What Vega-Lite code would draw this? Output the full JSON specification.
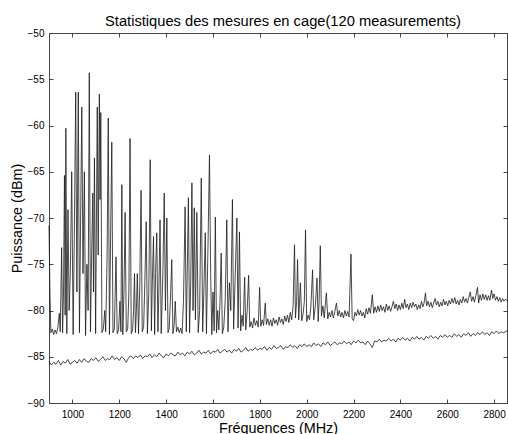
{
  "$schema": "https://vega.github.io/schema/vega-lite/v6.json",
  "width": 458,
  "height": 370,
  "autosize": {"type": "none"},
  "padding": {"left": 49, "top": 33, "right": 1, "bottom": 31},
  "background": "white",
  "config": {
    "font": "Liberation Sans",
    "view": {"stroke": "#444", "strokeWidth": 1},
    "axis": {"grid": false, "domain": false, "tickColor": "#444", "tickSize": -4, "labelFont": "Liberation Sans", "labelFontSize": 10, "labelColor": "#000", "titleFont": "Liberation Sans", "titleFontSize": 14.4, "titleFontWeight": "normal", "titleColor": "#000"}
  },
  "title": {"text": "Statistiques des mesures en cage(120 measurements)", "fontSize": 14.7, "fontWeight": "normal", "font": "Liberation Sans", "color": "#000", "offset": -1, "dx": 5, "anchor": "middle"},
  "datasets": {
    "u": [
      {"f":900,"p":-70.8},{"f":904,"p":-78},{"f":908,"p":-82.4},{"f":914,"p":-82.0},{"f":920,"p":-82.6},{"f":926,"p":-82.1},{"f":932,"p":-82.5},{"f":938,"p":-81.8},{"f":944,"p":-80.3},{"f":948,"p":-82.3},
      {"f":954,"p":-73.2},{"f":958,"p":-82.4},{"f":962,"p":-78},{"f":966,"p":-65.4},{"f":969,"p":-80.5},{"f":972,"p":-60.3},{"f":976,"p":-82.5},{"f":981,"p":-69.1},{"f":986,"p":-80},{"f":991,"p":-76},
      {"f":997,"p":-65},{"f":1003,"p":-82.6},{"f":1008,"p":-72},{"f":1014,"p":-56.4},{"f":1019,"p":-78},{"f":1025,"p":-56.4},{"f":1030,"p":-82.4},{"f":1035,"p":-70},{"f":1040,"p":-58},{"f":1045,"p":-76},
      {"f":1051,"p":-65},{"f":1056,"p":-82.7},{"f":1062,"p":-75},{"f":1067,"p":-80},{"f":1072,"p":-54.3},{"f":1077,"p":-82.3},{"f":1082,"p":-74},{"f":1087,"p":-67.3},{"f":1090,"p":-78},{"f":1094,"p":-63.5},
      {"f":1099,"p":-82.5},{"f":1102,"p":-72},{"f":1106,"p":-58},{"f":1110,"p":-74},{"f":1115,"p":-56.6},{"f":1118,"p":-68},{"f":1121,"p":-58.6},{"f":1126,"p":-82.4},{"f":1132,"p":-82.0},{"f":1138,"p":-80},
      {"f":1142,"p":-82.3},{"f":1148,"p":-74},{"f":1153,"p":-59.2},{"f":1158,"p":-82.6},{"f":1163,"p":-72},{"f":1168,"p":-61.8},{"f":1173,"p":-82.4},{"f":1179,"p":-82.0},{"f":1186,"p":-74.2},{"f":1191,"p":-82.5},
      {"f":1197,"p":-82.1},{"f":1203,"p":-79},{"f":1207,"p":-82.3},{"f":1211,"p":-66.4},{"f":1215,"p":-82.6},{"f":1220,"p":-78},{"f":1225,"p":-69.4},{"f":1230,"p":-82.3},{"f":1236,"p":-82.0},{"f":1241,"p":-78},
      {"f":1246,"p":-61.4},{"f":1251,"p":-82.5},{"f":1257,"p":-82.1},{"f":1261,"p":-80},{"f":1265,"p":-76},{"f":1269,"p":-82.4},{"f":1273,"p":-80},{"f":1277,"p":-76},{"f":1282,"p":-82.5},{"f":1287,"p":-78},
      {"f":1293,"p":-67},{"f":1298,"p":-82.3},{"f":1304,"p":-81.8},{"f":1309,"p":-77},{"f":1315,"p":-70.4},{"f":1320,"p":-82.5},{"f":1326,"p":-78},{"f":1332,"p":-63.7},{"f":1337,"p":-82.2},{"f":1341,"p":-77},
      {"f":1346,"p":-72},{"f":1351,"p":-82.6},{"f":1355,"p":-76},{"f":1360,"p":-71.6},{"f":1365,"p":-82.3},{"f":1369,"p":-78},{"f":1374,"p":-70.2},{"f":1379,"p":-82.5},{"f":1386,"p":-76},{"f":1392,"p":-67.3},
      {"f":1397,"p":-80},{"f":1403,"p":-70},{"f":1408,"p":-82.4},{"f":1413,"p":-82.0},{"f":1418,"p":-79},{"f":1424,"p":-74.5},{"f":1429,"p":-82.5},{"f":1434,"p":-81.6},{"f":1439,"p":-79},{"f":1444,"p":-82.3},
      {"f":1450,"p":-81.8},{"f":1456,"p":-82.4},{"f":1462,"p":-81.9},{"f":1468,"p":-82.5},{"f":1474,"p":-79},{"f":1481,"p":-68.8},{"f":1486,"p":-82.3},{"f":1490,"p":-76},{"f":1495,"p":-67.8},{"f":1500,"p":-82.4},
      {"f":1505,"p":-77},{"f":1510,"p":-66.2},{"f":1515,"p":-80},{"f":1520,"p":-68.9},{"f":1525,"p":-81},{"f":1531,"p":-69.4},{"f":1537,"p":-82.4},{"f":1543,"p":-80},{"f":1550,"p":-65.7},{"f":1556,"p":-82.3},
      {"f":1561,"p":-78},{"f":1567,"p":-71.6},{"f":1572,"p":-82.5},{"f":1578,"p":-74},{"f":1585,"p":-63.2},{"f":1590,"p":-76},{"f":1595,"p":-82.6},{"f":1600,"p":-78},{"f":1605,"p":-82.2},{"f":1610,"p":-69.9},
      {"f":1615,"p":-82.4},{"f":1620,"p":-80},{"f":1625,"p":-82.1},{"f":1630,"p":-79},{"f":1635,"p":-73.8},{"f":1640,"p":-82.5},{"f":1646,"p":-81.8},{"f":1652,"p":-79},{"f":1659,"p":-70.2},{"f":1664,"p":-82.3},
      {"f":1670,"p":-77},{"f":1676,"p":-80},{"f":1683,"p":-68},{"f":1688,"p":-82},{"f":1694,"p":-77},{"f":1702,"p":-70},{"f":1707,"p":-81.9},{"f":1713,"p":-71.5},{"f":1718,"p":-82.2},{"f":1724,"p":-80.5},
      {"f":1729,"p":-81.7},{"f":1735,"p":-76.4},{"f":1740,"p":-82.1},{"f":1746,"p":-80},{"f":1752,"p":-76.2},{"f":1757,"p":-81.8},{"f":1763,"p":-81.2},{"f":1769,"p":-81.9},{"f":1775,"p":-80.8},{"f":1781,"p":-81.6},
      {"f":1787,"p":-81.1},{"f":1793,"p":-81.8},{"f":1799,"p":-77.5},{"f":1804,"p":-81.7},{"f":1810,"p":-81.0},{"f":1816,"p":-81.6},{"f":1823,"p":-79.2},{"f":1828,"p":-81.5},{"f":1834,"p":-80.9},{"f":1840,"p":-81.6},
      {"f":1846,"p":-81.0},{"f":1852,"p":-81.7},{"f":1858,"p":-80.8},{"f":1864,"p":-81.4},{"f":1870,"p":-81.0},{"f":1876,"p":-81.6},{"f":1882,"p":-80.7},{"f":1888,"p":-81.3},{"f":1894,"p":-80.9},{"f":1900,"p":-81.5},
      {"f":1906,"p":-80.6},{"f":1912,"p":-81.2},{"f":1918,"p":-80.5},{"f":1924,"p":-81.3},{"f":1930,"p":-80.2},{"f":1936,"p":-81.0},{"f":1942,"p":-79.5},{"f":1948,"p":-72.9},{"f":1952,"p":-80.8},{"f":1957,"p":-79},
      {"f":1961,"p":-74.5},{"f":1966,"p":-81},{"f":1973,"p":-77},{"f":1979,"p":-81.1},{"f":1985,"p":-80.3},{"f":1990,"p":-79},{"f":1995,"p":-71.3},{"f":2000,"p":-81.2},{"f":2006,"p":-80.5},{"f":2012,"p":-81},
      {"f":2018,"p":-79.5},{"f":2025,"p":-75.6},{"f":2030,"p":-81},{"f":2037,"p":-79.5},{"f":2044,"p":-76.5},{"f":2049,"p":-81.2},{"f":2053,"p":-79},{"f":2058,"p":-73},{"f":2063,"p":-80.6},{"f":2069,"p":-79.5},
      {"f":2075,"p":-80.8},{"f":2080,"p":-79.2},{"f":2084,"p":-78.1},{"f":2090,"p":-80.9},{"f":2096,"p":-80.2},{"f":2102,"p":-80.7},{"f":2108,"p":-80.0},{"f":2114,"p":-80.8},{"f":2120,"p":-80.1},{"f":2127,"p":-79.2},
      {"f":2133,"p":-80.6},{"f":2139,"p":-80.0},{"f":2145,"p":-80.7},{"f":2151,"p":-80.2},{"f":2157,"p":-80.8},{"f":2163,"p":-80.0},{"f":2169,"p":-80.6},{"f":2175,"p":-80.1},{"f":2181,"p":-80.7},{"f":2189,"p":-73.9},
      {"f":2194,"p":-80.9},{"f":2200,"p":-81.1},{"f":2206,"p":-80.2},{"f":2212,"p":-80.6},{"f":2218,"p":-79.9},{"f":2224,"p":-80.5},{"f":2230,"p":-80.0},{"f":2236,"p":-80.6},{"f":2242,"p":-80.2},{"f":2248,"p":-80.8},
      {"f":2254,"p":-79.8},{"f":2260,"p":-80.4},{"f":2266,"p":-79.7},{"f":2272,"p":-80.3},{"f":2280,"p":-78.3},{"f":2286,"p":-80.3},{"f":2292,"p":-79.6},{"f":2298,"p":-80.2},{"f":2304,"p":-79.5},{"f":2310,"p":-80.1},
      {"f":2316,"p":-79.4},{"f":2322,"p":-80.0},{"f":2328,"p":-79.6},{"f":2334,"p":-80.2},{"f":2340,"p":-79.3},{"f":2346,"p":-80.0},{"f":2352,"p":-79.5},{"f":2358,"p":-80.1},{"f":2364,"p":-79.6},{"f":2370,"p":-79.0},
      {"f":2376,"p":-79.8},{"f":2382,"p":-79.3},{"f":2388,"p":-80.0},{"f":2394,"p":-79.4},{"f":2400,"p":-79.9},{"f":2406,"p":-79.2},{"f":2412,"p":-79.8},{"f":2418,"p":-78.8},{"f":2424,"p":-79.7},{"f":2430,"p":-79.3},
      {"f":2436,"p":-79.9},{"f":2442,"p":-79.2},{"f":2448,"p":-79.7},{"f":2454,"p":-79.1},{"f":2460,"p":-79.6},{"f":2466,"p":-79.3},{"f":2472,"p":-79.9},{"f":2478,"p":-79.4},{"f":2484,"p":-79.8},{"f":2490,"p":-79.0},
      {"f":2496,"p":-79.6},{"f":2501,"p":-79.2},{"f":2507,"p":-78.1},{"f":2512,"p":-79.5},{"f":2518,"p":-79.0},{"f":2524,"p":-79.6},{"f":2530,"p":-79.1},{"f":2536,"p":-79.7},{"f":2542,"p":-79.2},{"f":2548,"p":-78.7},
      {"f":2554,"p":-79.4},{"f":2560,"p":-79.0},{"f":2566,"p":-79.6},{"f":2572,"p":-79.1},{"f":2578,"p":-79.5},{"f":2584,"p":-78.8},{"f":2590,"p":-79.4},{"f":2596,"p":-79.0},{"f":2602,"p":-79.5},{"f":2608,"p":-78.9},
      {"f":2614,"p":-79.3},{"f":2620,"p":-78.7},{"f":2626,"p":-79.2},{"f":2632,"p":-78.6},{"f":2638,"p":-79.3},{"f":2644,"p":-78.9},{"f":2650,"p":-79.4},{"f":2656,"p":-78.8},{"f":2662,"p":-79.2},{"f":2668,"p":-78.5},
      {"f":2674,"p":-79.1},{"f":2680,"p":-78.7},{"f":2686,"p":-79.2},{"f":2692,"p":-78.6},{"f":2698,"p":-78.0},{"f":2704,"p":-79.0},{"f":2710,"p":-78.5},{"f":2716,"p":-79.1},{"f":2722,"p":-78.4},{"f":2729,"p":-77.5},
      {"f":2734,"p":-79.2},{"f":2740,"p":-78.3},{"f":2746,"p":-78.9},{"f":2752,"p":-78.2},{"f":2758,"p":-78.8},{"f":2764,"p":-78.3},{"f":2770,"p":-78.9},{"f":2776,"p":-78.4},{"f":2782,"p":-78.9},{"f":2789,"p":-77.8},
      {"f":2794,"p":-78.7},{"f":2800,"p":-78.2},{"f":2806,"p":-78.9},{"f":2812,"p":-78.5},{"f":2818,"p":-79.0},{"f":2824,"p":-78.6},{"f":2830,"p":-79.1},{"f":2836,"p":-78.7},{"f":2842,"p":-79.0},{"f":2848,"p":-78.8},
      {"f":2855,"p":-78.9}
    ],
    "l": [
      {"f":900,"p":-85.5},{"f":910,"p":-85.9},{"f":920,"p":-85.6},{"f":930,"p":-85.8},{"f":940,"p":-85.4},{"f":950,"p":-85.9},{"f":960,"p":-85.5},{"f":970,"p":-85.7},{"f":980,"p":-85.3},{"f":990,"p":-85.8},
      {"f":1000,"p":-85.6},{"f":1010,"p":-85.4},{"f":1020,"p":-85.7},{"f":1030,"p":-85.3},{"f":1040,"p":-85.6},{"f":1050,"p":-85.2},{"f":1060,"p":-85.5},{"f":1070,"p":-85.6},{"f":1080,"p":-85.2},{"f":1090,"p":-85.4},
      {"f":1100,"p":-85.1},{"f":1110,"p":-85.5},{"f":1120,"p":-85.3},{"f":1130,"p":-85.0},{"f":1140,"p":-85.4},{"f":1150,"p":-85.2},{"f":1160,"p":-85.3},{"f":1170,"p":-84.9},{"f":1180,"p":-85.3},{"f":1190,"p":-85.1},
      {"f":1200,"p":-85.4},{"f":1210,"p":-85.0},{"f":1220,"p":-85.2},{"f":1230,"p":-85.6},{"f":1240,"p":-85.1},{"f":1250,"p":-84.9},{"f":1260,"p":-85.2},{"f":1270,"p":-84.9},{"f":1280,"p":-85.1},{"f":1290,"p":-84.8},
      {"f":1300,"p":-85.2},{"f":1310,"p":-84.9},{"f":1320,"p":-85.0},{"f":1330,"p":-84.7},{"f":1340,"p":-85.1},{"f":1350,"p":-84.8},{"f":1360,"p":-85.0},{"f":1370,"p":-84.6},{"f":1380,"p":-84.9},{"f":1390,"p":-85.1},
      {"f":1400,"p":-84.7},{"f":1410,"p":-84.9},{"f":1420,"p":-84.6},{"f":1430,"p":-84.8},{"f":1440,"p":-84.9},{"f":1450,"p":-84.5},{"f":1460,"p":-84.8},{"f":1470,"p":-84.6},{"f":1480,"p":-84.9},{"f":1490,"p":-84.5},
      {"f":1500,"p":-84.7},{"f":1510,"p":-84.4},{"f":1520,"p":-84.8},{"f":1530,"p":-84.6},{"f":1540,"p":-84.3},{"f":1550,"p":-84.7},{"f":1560,"p":-84.5},{"f":1570,"p":-84.6},{"f":1580,"p":-84.3},{"f":1590,"p":-84.7},
      {"f":1600,"p":-84.4},{"f":1610,"p":-84.5},{"f":1620,"p":-84.2},{"f":1630,"p":-84.6},{"f":1640,"p":-84.4},{"f":1650,"p":-84.2},{"f":1660,"p":-84.5},{"f":1670,"p":-84.3},{"f":1680,"p":-84.6},{"f":1690,"p":-84.2},
      {"f":1700,"p":-84.4},{"f":1710,"p":-84.1},{"f":1720,"p":-84.5},{"f":1730,"p":-84.3},{"f":1740,"p":-84.0},{"f":1750,"p":-84.4},{"f":1760,"p":-84.2},{"f":1770,"p":-84.3},{"f":1780,"p":-84.0},{"f":1790,"p":-84.3},
      {"f":1800,"p":-84.1},{"f":1810,"p":-84.2},{"f":1820,"p":-83.9},{"f":1830,"p":-84.3},{"f":1840,"p":-84.0},{"f":1850,"p":-84.2},{"f":1860,"p":-83.8},{"f":1870,"p":-84.1},{"f":1880,"p":-84.0},{"f":1890,"p":-83.8},
      {"f":1900,"p":-84.2},{"f":1910,"p":-83.9},{"f":1920,"p":-84.0},{"f":1930,"p":-83.7},{"f":1940,"p":-84.0},{"f":1950,"p":-83.8},{"f":1960,"p":-84.1},{"f":1970,"p":-83.7},{"f":1980,"p":-83.9},{"f":1990,"p":-83.6},
      {"f":2000,"p":-83.9},{"f":2010,"p":-83.7},{"f":2020,"p":-83.9},{"f":2030,"p":-83.5},{"f":2040,"p":-83.8},{"f":2050,"p":-83.6},{"f":2060,"p":-83.9},{"f":2070,"p":-83.5},{"f":2080,"p":-83.7},{"f":2090,"p":-83.4},
      {"f":2100,"p":-83.8},{"f":2110,"p":-83.6},{"f":2120,"p":-83.4},{"f":2130,"p":-83.7},{"f":2140,"p":-83.5},{"f":2150,"p":-83.6},{"f":2160,"p":-83.3},{"f":2170,"p":-83.6},{"f":2180,"p":-83.4},{"f":2190,"p":-83.7},
      {"f":2200,"p":-83.3},{"f":2210,"p":-83.5},{"f":2220,"p":-83.2},{"f":2230,"p":-83.5},{"f":2240,"p":-83.4},{"f":2250,"p":-83.7},{"f":2260,"p":-83.3},{"f":2270,"p":-83.6},{"f":2280,"p":-84.0},{"f":2290,"p":-83.3},
      {"f":2300,"p":-83.4},{"f":2310,"p":-83.1},{"f":2320,"p":-83.4},{"f":2330,"p":-83.2},{"f":2340,"p":-83.3},{"f":2350,"p":-83.0},{"f":2360,"p":-83.3},{"f":2370,"p":-83.1},{"f":2380,"p":-83.4},{"f":2390,"p":-83.0},
      {"f":2400,"p":-83.2},{"f":2410,"p":-82.9},{"f":2420,"p":-83.2},{"f":2430,"p":-83.0},{"f":2440,"p":-83.3},{"f":2450,"p":-82.9},{"f":2460,"p":-83.1},{"f":2470,"p":-82.8},{"f":2480,"p":-83.1},{"f":2490,"p":-82.9},
      {"f":2500,"p":-83.2},{"f":2510,"p":-82.8},{"f":2520,"p":-83.0},{"f":2530,"p":-82.7},{"f":2540,"p":-83.0},{"f":2550,"p":-82.8},{"f":2560,"p":-83.1},{"f":2570,"p":-82.7},{"f":2580,"p":-82.9},{"f":2590,"p":-82.6},
      {"f":2600,"p":-82.9},{"f":2610,"p":-82.7},{"f":2620,"p":-82.9},{"f":2630,"p":-82.5},{"f":2640,"p":-82.8},{"f":2650,"p":-82.6},{"f":2660,"p":-82.9},{"f":2670,"p":-82.5},{"f":2680,"p":-82.7},{"f":2690,"p":-82.4},
      {"f":2700,"p":-82.8},{"f":2710,"p":-82.5},{"f":2720,"p":-82.7},{"f":2730,"p":-82.4},{"f":2740,"p":-82.6},{"f":2750,"p":-82.3},{"f":2760,"p":-82.6},{"f":2770,"p":-82.4},{"f":2780,"p":-82.7},{"f":2790,"p":-82.3},
      {"f":2800,"p":-82.5},{"f":2810,"p":-82.2},{"f":2820,"p":-82.5},{"f":2830,"p":-82.3},{"f":2840,"p":-82.4},{"f":2855,"p":-82.2}
    ]
  },
  "layer": [
    {
      "layer": [
        {
          "data": {"name": "u"},
          "mark": {"type": "line", "color": "#1a1a1a", "strokeWidth": 0.8},
          "encoding": {
            "x": {"field": "f", "type": "quantitative", "scale": {"domain": [900, 2855], "nice": false, "zero": false},
                  "axis": {"orient": "bottom", "values": [1000,1200,1400,1600,1800,2000,2200,2400,2600,2800], "format": "d", "title": "Fréquences (MHz)", "labelPadding": 10, "titlePadding": 2}},
            "y": {"field": "p", "type": "quantitative", "scale": {"domain": [-90, -50], "nice": false, "zero": false},
                  "axis": {"orient": "left", "values": [-90,-85,-80,-75,-70,-65,-60,-55,-50], "title": "Puissance (dBm)", "labelPadding": 9, "titlePadding": 3}}
          }
        },
        {
          "data": {"name": "l"},
          "mark": {"type": "line", "color": "#1a1a1a", "strokeWidth": 0.8},
          "encoding": {
            "x": {"field": "f", "type": "quantitative"},
            "y": {"field": "p", "type": "quantitative"}
          }
        }
      ]
    },
    {
      "data": {"name": "l"},
      "mark": {"type": "line", "opacity": 0},
      "encoding": {
        "x": {"field": "f", "type": "quantitative", "axis": {"orient": "top", "values": [1000,1200,1400,1600,1800,2000,2200,2400,2600,2800], "labels": false, "title": null}},
        "y": {"field": "p", "type": "quantitative", "axis": {"orient": "right", "values": [-90,-85,-80,-75,-70,-65,-60,-55,-50], "labels": false, "title": null}}
      }
    }
  ],
  "resolve": {"axis": {"x": "independent", "y": "independent"}}
}
